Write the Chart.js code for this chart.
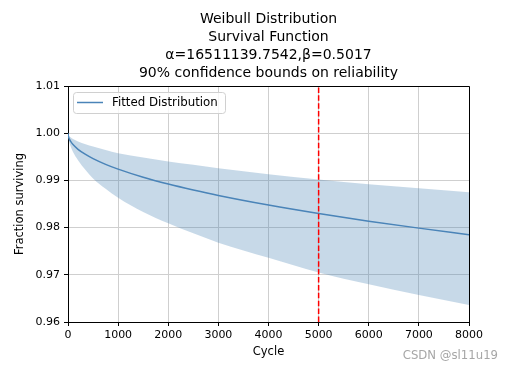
<!DOCTYPE html>
<html>

<head>
    <script src="https://cdn.jsdelivr.net/npm/chart.js"></script>
    <style>
        body {
            margin: 0;
            background-color: white;
        }
    </style>
</head>

<body>
    <canvas id="myChart" width="513" height="370"></canvas>

    <script>
        // Values
        const cycles  = [0, 10, 25, 50, 100, 200, 350, 500, 750, 1000, 1500, 2000, 2500, 3000, 4000, 5000, 6000, 7000, 8000];
        const sfFit   = [1.0, 0.99924, 0.9988, 0.9983, 0.99759, 0.99659, 0.99549, 0.99461, 0.9934, 0.99238, 0.99066, 0.98922, 0.98796, 0.9868, 0.98477, 0.98298, 0.98137, 0.97989, 0.97851];
        const sfUpper = [1.0, 0.99964, 0.99941, 0.99915, 0.99875, 0.99826, 0.99765, 0.99717, 0.99643, 0.99576, 0.99485, 0.994, 0.9933, 0.99255, 0.9913, 0.9902, 0.9892, 0.98835, 0.9875];
        const sfLower = [1.0, 0.99882, 0.99808, 0.9973, 0.996, 0.99428, 0.9922, 0.9904, 0.98821, 0.9863, 0.9833, 0.9809, 0.97878, 0.9768, 0.9736, 0.9705, 0.968, 0.9657, 0.9636];

        const markerCycle = [5000, 5000];
        const markerSF = [0.96, 1.01];

        const titleLines = ['Weibull Distribution', 'Survival Function', 'α=16511139.7542,β=0.5017', '90% confidence bounds on reliability'];
        const legendLabel = 'Fitted Distribution';

        const pts = (xs, ys) => xs.map((x, i) => ({ x: x, y: ys[i] }));
        const FONT = "'DejaVu Sans', sans-serif";

        // legend box, outer spines and watermark
        const extras = {
            id: 'extras',
            afterDraw(chart) {
                const ctx = chart.ctx;
                const a = chart.chartArea;
                ctx.save();
                // top / right spines
                ctx.strokeStyle = '#000';
                ctx.lineWidth = 1;
                ctx.beginPath();
                ctx.moveTo(a.left, a.top + 0.5);
                ctx.lineTo(a.right + 0.5, a.top + 0.5);
                ctx.lineTo(a.right + 0.5, a.bottom);
                ctx.stroke();

                // legend
                const bx = a.left + 5, by = a.top + 6, bw = 152, bh = 21;
                ctx.fillStyle = 'rgba(255,255,255,0.8)';
                ctx.strokeStyle = '#d0d0d0';
                ctx.beginPath();
                ctx.roundRect(bx + 0.5, by + 0.5, bw, bh, 3);
                ctx.fill();
                ctx.stroke();
                ctx.strokeStyle = '#4a84b8';
                ctx.lineWidth = 1.5;
                ctx.beginPath();
                ctx.moveTo(bx + 4, by + 10.5);
                ctx.lineTo(bx + 30, by + 10.5);
                ctx.stroke();
                ctx.fillStyle = '#000';
                ctx.font = '11.8px ' + FONT;
                ctx.textBaseline = 'middle';
                ctx.fillText(legendLabel, bx + 39, by + 11);

                // watermark
                ctx.fillStyle = '#a6a6a6';
                ctx.font = '11.7px ' + FONT;
                ctx.textAlign = 'right';
                ctx.fillText('CSDN @sl11u19', 498, 356);
                ctx.restore();
            }
        };

        const chart = new Chart('myChart', {
            type: 'line',
            data: {
                datasets: [{
                    data: pts(markerCycle, markerSF),
                    borderColor: 'red',
                    borderWidth: 1.5,
                    borderDash: [5.5, 2.4],
                    pointRadius: 0,
                    fill: false,
                    order: 0,
                }, {
                    data: pts(cycles, sfFit),
                    borderColor: '#4a84b8',
                    borderWidth: 1.5,
                    pointRadius: 0,
                    fill: false,
                    cubicInterpolationMode: 'monotone',
                    order: 1,
                }, {
                    data: pts(cycles, sfUpper),
                    borderWidth: 0,
                    pointRadius: 0,
                    fill: '+1',
                    backgroundColor: 'rgba(70, 130, 180, 0.3)',
                    cubicInterpolationMode: 'monotone',
                    order: 2,
                }, {
                    data: pts(cycles, sfLower),
                    borderWidth: 0,
                    pointRadius: 0,
                    fill: false,
                    cubicInterpolationMode: 'monotone',
                    order: 3,
                }]
            },
            options: {
                responsive: false,
                animation: false,
                layout: { padding: { left: 0, right: 44, top: 0, bottom: 0 } },
                plugins: {
                    legend: { display: false },
                    tooltip: { enabled: false },
                    title: {
                        display: true,
                        text: titleLines,
                        fullSize: false,
                        color: '#000',
                        font: { family: FONT, size: 14, weight: 'normal', lineHeight: 18 / 14 },
                        padding: { top: 10, bottom: 4 },
                    }
                },
                scales: {
                    x: {
                        type: 'linear',
                        min: 0,
                        max: 8000,
                        afterFit: (s) => { s.height = 48; },
                        ticks: { stepSize: 1000, color: '#000', padding: 3, maxRotation: 0, font: { family: FONT, size: 11 }, callback: (v) => String(v) },
                        grid: { color: '#cfcfcf', tickColor: '#000', tickLength: 4 },
                        border: { color: '#000' },
                        title: { display: true, text: 'Cycle', color: '#000', font: { family: FONT, size: 11.5 }, padding: { top: 0, bottom: 11 } },
                    },
                    y: {
                        min: 0.96,
                        max: 1.01,
                        afterFit: (s) => { s.width = 68; },
                        ticks: { stepSize: 0.01, color: '#000', padding: 4, font: { family: FONT, size: 11 }, callback: (v) => v.toFixed(2) },
                        grid: { color: '#cfcfcf', tickColor: '#000', tickLength: 4 },
                        border: { color: '#000' },
                        title: { display: true, text: 'Fraction surviving', color: '#000', font: { family: FONT, size: 11.5 }, padding: { top: 13, bottom: 0 } },
                    }
                }
            },
            plugins: [extras]
        });
    </script>
</body>
</html>
